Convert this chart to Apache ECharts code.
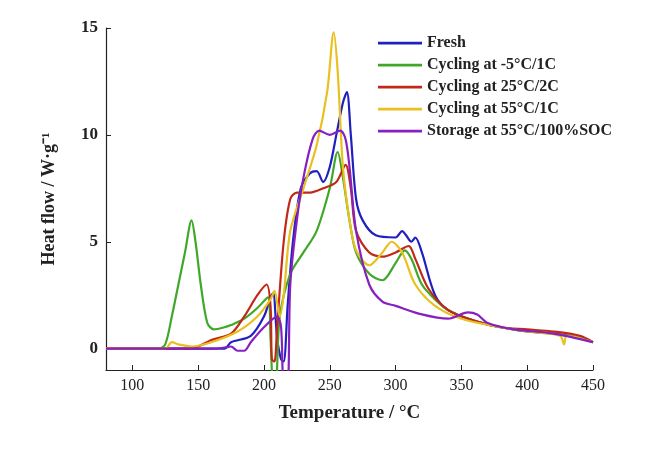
<!DOCTYPE html>
<html><head><meta charset="utf-8">
<script src="https://cdn.jsdelivr.net/npm/echarts@6/dist/echarts.min.js"></script>
<style>html,body{margin:0;padding:0;background:#fff}#c{width:650px;height:450px}</style>
</head><body><div id="c"></div>
<script>
const names = ['Fresh','Cycling at -5°C/1C','Cycling at 25°C/2C','Cycling at 55°C/1C','Storage at 55°C/100%SOC'];
const colors = ['#2020c0','#40a828','#c02818','#e8c020','#8820c0'];
const fresh = [[80,0],[170,0],[175,0.3],[190,0.6],[200,1.5],[205,2.4],[207,2.6],[210,0.5],[213,-0.5],[215,-0.6],[218,2],[222,5],[228,7.5],[235,8.2],[240,8.3],[245,7.8],[250,8.5],[255,10],[260,11.5],[263,12],[266,10],[270,7],[275,6],[285,5.3],[300,5.2],[305,5.5],[308,5.3],[312,5.0],[315,5.2],[320,4.5],[330,2.5],[340,1.8],[360,1.3],[380,1.0],[400,0.8],[420,0.7],[440,0.5],[450,0.3]];
const cold = [[80,0],[120,0],[125,0.2],[130,1.5],[135,3],[140,4.5],[145,6],[148,5],[152,3],[157,1.2],[162,0.9],[170,1.0],[175,1.1],[185,1.4],[195,1.9],[203,2.4],[205,0.5],[207,-1.5],[209,-1.5],[212,1.5],[220,3.5],[230,4.5],[240,5.5],[250,7.5],[256,9.2],[260,8],[265,6],[270,4.5],[280,3.5],[290,3.2],[300,4.0],[307,4.6],[312,4.2],[320,3.0],[330,2.3],[340,1.8],[360,1.3],[380,1.0],[400,0.8],[420,0.7],[440,0.5],[450,0.3]];
const c25 = [[80,0],[140,0],[150,0.1],[160,0.4],[175,0.7],[185,1.5],[195,2.5],[202,3.0],[205,2.0],[206,-0.5],[208,-0.6],[210,1],[215,5],[220,7.0],[225,7.3],[235,7.3],[245,7.5],[255,7.8],[262,8.6],[266,7.5],[270,5.5],[280,4.5],[290,4.3],[300,4.5],[310,4.8],[315,4.2],[325,2.8],[340,1.8],[360,1.3],[380,1.0],[400,0.9],[420,0.8],[440,0.6],[450,0.3]];
const c55 = [[80,0],[125,0],[130,0.3],[135,0.2],[145,0.1],[160,0.3],[180,0.8],[195,1.5],[205,2.3],[208,2.7],[212,1.5],[215,2.5],[220,5.5],[230,7.5],[240,9.5],[248,12],[253,14.8],[256,13],[260,8.5],[265,6],[270,4.6],[280,3.9],[290,4.5],[297,5.0],[305,4.5],[315,3.0],[330,2.0],[350,1.4],[380,1.0],[400,0.8],[425,0.6],[428,0.2],[430,0.6],[450,0.3]];
const storage = [[80,0],[160,0],[170,0.05],[175,0.1],[180,-0.1],[185,-0.1],[190,0.3],[200,1.0],[210,1.5],[213,1.0],[215,-1.5],[218,-1.5],[220,3],[225,6],[230,8],[237,9.8],[242,10.2],[250,10],[258,10.2],[262,9.8],[265,8.5],[270,5.5],[280,3.0],[290,2.2],[300,2.0],[320,1.6],[340,1.4],[355,1.7],[362,1.6],[370,1.2],[390,0.9],[420,0.7],[450,0.3]];
const xTicks = [100,150,200,250,300,350,400,450];
const yTicks = [0,5,10,15];
const allData = [fresh,cold,c25,c55,storage];
const font = 'Liberation Serif';
const chart = echarts.init(document.getElementById('c'));
chart.setOption({
  animation:false,
  color: colors,
  grid:{left:106,right:57,top:28,bottom:80},
  legend:{orient:'vertical',left:373,top:30,itemGap:6,itemWidth:44,itemHeight:10,
    icon:'path://M0,4h40v2.5h-40z',
    textStyle:{fontFamily:font,fontWeight:'bold',fontSize:16,color:'#222'},data:names},
  xAxis:{type:'value',min:80,max:450,
    name:'Temperature / °C',nameLocation:'middle',nameGap:34,
    nameTextStyle:{fontFamily:font,fontWeight:'bold',fontSize:19,color:'#222'},
    axisLine:{onZero:false,lineStyle:{color:'#222',width:1.2}},
    axisTick:{inside:true,length:5,lineStyle:{color:'#222'},customValues:xTicks},
    axisLabel:{fontFamily:font,fontSize:16,color:'#222',customValues:xTicks},
    splitLine:{show:false}},
  yAxis:{type:'value',min:-1,max:15,
    name:'Heat flow / W·g⁻¹',nameLocation:'middle',nameGap:48,
    nameTextStyle:{fontFamily:font,fontWeight:'bold',fontSize:18,color:'#222'},
    axisLine:{show:true,lineStyle:{color:'#222',width:1.2}},
    axisTick:{inside:true,length:5,lineStyle:{color:'#222'},customValues:yTicks},
    axisLabel:{fontFamily:font,fontWeight:'bold',fontSize:17,color:'#222',customValues:yTicks},
    splitLine:{show:false}},
  series: allData.map((d,i)=>({name:names[i],type:'line',data:d,smooth:0.3,showSymbol:false,clip:true,
    lineStyle:{width:2.2,color:colors[i]}}))
});
</script></body></html>
